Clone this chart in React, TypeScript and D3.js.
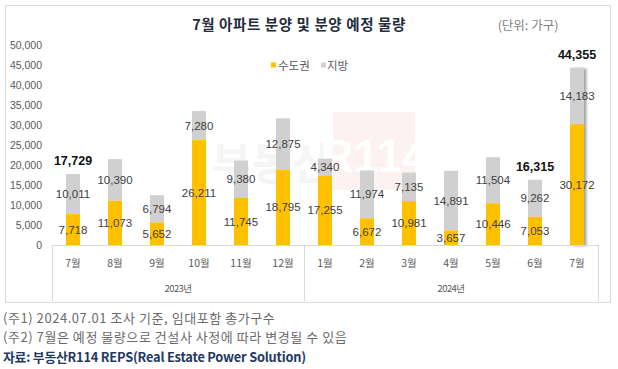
import React from 'react';
import * as d3 from 'd3';

const months = ['7월', '8월', '9월', '10월', '11월', '12월', '1월', '2월', '3월', '4월', '5월', '6월', '7월'];
const metro = [7718, 11073, 5652, 26211, 11745, 18795, 17255, 6672, 10981, 3657, 10446, 7053, 30172];
const local = [10011, 10390, 6794, 7280, 9380, 12875, 4340, 11974, 7135, 14891, 11504, 9262, 14183];
const yearGroups = [
  { label: '2023년', from: 0, to: 5 },
  { label: '2024년', from: 6, to: 12 },
];
const totalShown = [0, 11, 12];
const yTicks = [0, 5000, 10000, 15000, 20000, 25000, 30000, 35000, 40000, 45000, 50000];
const notes = ['(주1) 2024.07.01 조사 기준, 임대포함 총가구수', '(주2) 7월은 예정 물량으로 건설사 사정에 따라 변경될 수 있음'];
const source = '자료: 부동산R114 REPS(Real Estate Power Solution)';

const W = 618;
const H = 369;
const left = 52;
const right = 598;
const top = 45;
const base = 245;

const YELLOW = '#FFC000';
const GRAY = '#D0D0D0';
const KR = '"Noto Sans CJK KR", "Noto Sans", sans-serif';
const NUM = '"Liberation Sans", Arial, sans-serif';

export default function App() {
  const idx = months.map((_, i) => String(i));
  const x = d3.scaleBand<string>().domain(idx).range([left, right]).padding(0);
  const y = d3.scaleLinear().domain([0, 50000]).range([base, top]);
  const bw = 14;
  const fmt = d3.format(',');

  return (
    <svg width={W} height={H} style={{ position: 'absolute', left: 0, top: 0, background: '#fff' }}>
      <defs>
        <filter id="shadow" x="-50%" y="-10%" width="200%" height="120%">
          <feDropShadow dx="2.5" dy="1" stdDeviation="1" floodColor="#000" floodOpacity="0.35" />
        </filter>
      </defs>
      <rect x={5.5} y={5.5} width={605} height={297} fill="#fff" stroke="#dcdcdc" />

      {/* title */}
      <text x={299} y={30} textAnchor="middle" fontFamily={KR} fontWeight="bold" fontSize={14.5} fill="#1f2d3d" letterSpacing={0.6}>
        7월 아파트 분양 및 분양 예정 물량
      </text>
      <text x={528} y={30} textAnchor="middle" fontFamily={KR} fontSize={12.5} fill="#7f7f7f">
        (단위: 가구)
      </text>

      {/* legend */}
      <rect x={271} y={62.5} width={5} height={5} fill={YELLOW} />
      <text x={278} y={65} dominantBaseline="central" fontFamily={KR} fontSize={11.5} fill="#595959">수도권</text>
      <rect x={321} y={62.5} width={5} height={5} fill={GRAY} />
      <text x={327} y={65} dominantBaseline="central" fontFamily={KR} fontSize={11.5} fill="#595959">지방</text>

      {/* watermark, very faint */}
      <g>
        <text x={272} y={180} textAnchor="middle" fontFamily={KR} fontWeight="bold" fontSize={44} fill="#f5f5f5">부동산</text>
        <rect x={333} y={112} width={82} height={78} fill="#fdf1f1" />
        <text x={374} y={172} textAnchor="middle" fontFamily={NUM} fontWeight="bold" fontSize={46} fill="#fff">R114</text>
      </g>

      {/* y axis labels */}
      {yTicks.map(t => (
        <text key={t} x={42} y={y(t)} textAnchor="end" dominantBaseline="central" fontFamily={NUM} fontSize={10.5} fill="#595959">
          {fmt(t)}
        </text>
      ))}

      {/* bars */}
      {idx.map((k, i) => {
        const cx = x(k)! + x.bandwidth() / 2;
        const m = metro[i];
        const l = local[i];
        const last = i === months.length - 1;
        return (
          <g key={k}>
            <g filter={last ? 'url(#shadow)' : undefined}>
              <rect x={cx - bw / 2} y={y(m + l)} width={bw} height={y(m) - y(m + l)} fill={GRAY} />
              <rect x={cx - bw / 2} y={y(m)} width={bw} height={base - y(m)} fill={YELLOW} />
            </g>
            <text x={cx} y={(y(0) + y(m)) / 2} textAnchor="middle" dominantBaseline="central" fontFamily={NUM} fontSize={11.5} fill="#404040">
              {fmt(m)}
            </text>
            <text x={cx} y={(y(m) + y(m + l)) / 2} textAnchor="middle" dominantBaseline="central" fontFamily={NUM} fontSize={11.5} fill="#404040">
              {fmt(l)}
            </text>
            {totalShown.includes(i) && (
              <text x={cx} y={y(m + l) - 13} textAnchor="middle" dominantBaseline="central" fontFamily={NUM} fontWeight="bold" fontSize={12.5} fill="#111">
                {fmt(m + l)}
              </text>
            )}
            <text x={cx} y={262} textAnchor="middle" dominantBaseline="central" fontFamily={KR} fontSize={10.5} fill="#595959">
              {months[i]}
            </text>
          </g>
        );
      })}

      {/* x axis + group separators */}
      <line x1={left} x2={right} y1={base + 0.5} y2={base + 0.5} stroke="#d9d9d9" />
      {[left, x(String(yearGroups[1].from))!, right].map((sx, i) => (
        <line key={i} x1={Math.round(sx) + 0.5} x2={Math.round(sx) + 0.5} y1={base} y2={301} stroke="#d9d9d9" />
      ))}
      {yearGroups.map(g => {
        const gx = (x(String(g.from))! + x(String(g.to))! + x.bandwidth()) / 2;
        return (
          <text key={g.label} x={gx} y={288} textAnchor="middle" dominantBaseline="central" fontFamily={KR} fontSize={9.5} letterSpacing={-0.6} fill="#595959">
            {g.label}
          </text>
        );
      })}

      {/* notes */}
      {notes.map((n, i) => (
        <text key={i} x={3} y={317 + i * 19} dominantBaseline="central" fontFamily={KR} fontSize={13} letterSpacing={0.55} fill="#6b6b6b">
          {n}
        </text>
      ))}
      <text x={3} y={356} dominantBaseline="central" fontFamily={KR} fontWeight="bold" fontSize={12.8} letterSpacing={-0.2} fill="#1f3864">
        {source}
      </text>
    </svg>
  );
}
